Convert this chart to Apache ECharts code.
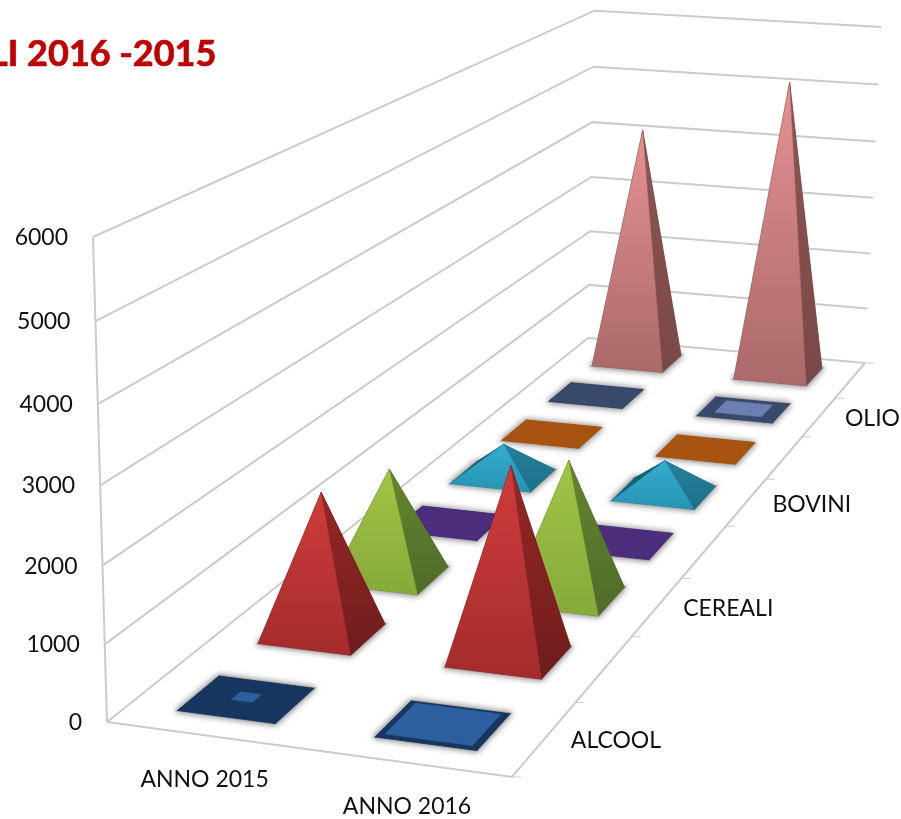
<!DOCTYPE html>
<html>
<head>
<meta charset="utf-8">
<style>
  html, body { margin: 0; padding: 0; background: #fff; }
  #chart { width: 901px; height: 819px; }
</style>
<script src="https://cdn.jsdelivr.net/npm/echarts@6/dist/echarts.min.js"></script>
</head>
<body>
<div id="chart"></div>
<script>
// values, rows run front to back
const years = ['ANNO 2015', 'ANNO 2016'];
const rows = ['ALCOOL', null, 'CEREALI', null, 'BOVINI', null, 'OLIO', null];
const anno2015 = [30, 1950, 1550, 10, 520, 10, 10, 4150];
const anno2016 = [15, 2580, 1940, 10, 520, 10, 20, 5150];
const valueTicks = [0, 1000, 2000, 3000, 4000, 5000, 6000];

// low bars are cut flat, this is the share of the base left on top (0 = pointed)
const capShare2015 = [0.22, 0, 0, 1, 0, 1, 1, 0];
const capShare2016 = [0.86, 0, 0, 1, 0, 1, 0.62, 0];

const rowColors = [
  { front: ['#17365f', '#17365f'], right: '#17365f', left: '#17365f', back: '#17365f', cap: '#2d5f9e' },
  { front: ['#d03c3c', '#a32c2c'], right: ['#972828', '#6e1c1c'], left: '#7a2020', back: '#7a2020', cap: '#a32c2c' },
  { front: ['#a0c545', '#86aa3b'], right: ['#648532', '#4f6b27'], left: '#55702a', back: '#55702a', cap: '#86aa3b' },
  { front: ['#4b2d7b', '#4b2d7b'], right: '#4b2d7b', left: '#4b2d7b', back: '#4b2d7b', cap: '#4b2d7b' },
  { front: ['#36adcd', '#2594b3'], right: ['#26809c', '#1d6f88'], left: '#175f75', back: '#1f7d98', cap: '#2594b3' },
  { front: ['#a6540f', '#a6540f'], right: '#a6540f', left: '#a6540f', back: '#a6540f', cap: '#a6540f' },
  { front: ['#39496b', '#39496b'], right: '#39496b', left: '#39496b', back: '#39496b', cap: '#6b80b0' },
  { front: ['#e59292', '#ab6969'], right: ['#8d5654', '#794846'], left: '#794846', back: '#794846', cap: '#ab6969' }
];

const font = 'Lato, "Open Sans", sans-serif';
const lineColor = '#cbcbcb';
const barShare = 0.5;

// box of the 3D chart on the page: floor corners and wall top corners
const floorA = [107, 722], floorB = [512, 777], floorC = [865, 363], floorD = [588, 338];
const topA = [93, 237], topC = [879, 27];

// floor homography (u along years, v along rows)
function buildFloor(p0, p1, p2, p3) {
  const dx1 = p1[0] - p2[0], dx2 = p3[0] - p2[0], sx = p0[0] - p1[0] + p2[0] - p3[0];
  const dy1 = p1[1] - p2[1], dy2 = p3[1] - p2[1], sy = p0[1] - p1[1] + p2[1] - p3[1];
  const det = dx1 * dy2 - dx2 * dy1;
  const g = (sx * dy2 - dx2 * sy) / det;
  const h = (dx1 * sy - sx * dy1) / det;
  return {
    a: p1[0] - p0[0] + g * p1[0], b: p3[0] - p0[0] + h * p3[0], c: p0[0],
    d: p1[1] - p0[1] + g * p1[1], e: p3[1] - p0[1] + h * p3[1], f: p0[1],
    g: g, h: h
  };
}
const F = buildFloor(floorA, floorB, floorC, floorD);

// height column, solved so that A and C reach their wall tops
const nCy = F.d + F.e + F.f, dC = F.g + F.h + 1;
const cz = (topC[1] * dC - nCy - topA[1] + floorA[1]) / (topA[1] - topC[1]);
const cx = topA[0] * (1 + cz) - floorA[0];
const cy = topA[1] * (1 + cz) - floorA[1];

function project(u, v, w) {
  const d = F.g * u + F.h * v + 1 + w * cz;
  return [
    (F.a * u + F.b * v + F.c + w * cx) / d,
    (F.d * u + F.e * v + F.f + w * cy) / d
  ];
}

function unitHeight(api, params, value) {
  const sys = params.coordSys;
  return (sys.y + sys.height - api.coord([0, value])[1]) / sys.height;
}

function face(points, fill) {
  const isGrad = Array.isArray(fill);
  return {
    type: 'polygon',
    shape: { points: points },
    style: {
      fill: isGrad
        ? new echarts.graphic.LinearGradient(0, 0, 0, 1, [
            { offset: 0, color: fill[0] },
            { offset: 1, color: fill[1] }
          ])
        : fill,
      stroke: isGrad ? fill[1] : fill,
      lineWidth: 0.5
    }
  };
}

function renderBar(params, api) {
  const sys = params.coordSys;
  const xi = api.value(0), value = api.value(1), row = api.value(2), capShare = api.value(3);
  const u = (api.coord([xi, 0])[0] - sys.x) / sys.width;
  const v = (row + 0.5) / rows.length;
  const du = api.size([1, 0])[0] / sys.width * barShare / 2;
  const dv = barShare / rows.length / 2;
  const w = unitHeight(api, params, value);
  const col = rowColors[row];

  const base = [[-1, -1], [1, -1], [1, 1], [-1, 1]].map(function (s) {
    return project(u + s[0] * du, v + s[1] * dv, 0);
  });
  const cap = [[-1, -1], [1, -1], [1, 1], [-1, 1]].map(function (s) {
    return project(u + s[0] * du * capShare, v + s[1] * dv * capShare, w);
  });
  const quad = function (i, j) { return [base[i], base[j], cap[j], cap[i]]; };

  const children = [{
    type: 'polygon',
    shape: { points: base },
    style: { fill: '#8f8f8f', stroke: '#b0b0b0', lineWidth: 2.5, shadowBlur: 6, shadowColor: 'rgba(90,90,90,0.7)' }
  }];
  children.push(face(base, col.back));
  children.push(face(quad(3, 2), col.back));
  children.push(face(quad(3, 0), col.left));
  children.push(face(quad(1, 2), col.right));
  children.push(face(quad(0, 1), col.front));
  if (capShare > 0) children.push(face(cap, capShare < 1 ? col.cap : col.back));
  return { type: 'group', children: children };
}

function line(points, width) {
  return {
    type: 'polyline',
    shape: { points: points },
    style: { stroke: lineColor, lineWidth: width || 2, fill: null }
  };
}

function label(text, x, y, align, color) {
  return {
    type: 'text',
    style: { text: text, x: x, y: y, fill: color || '#111', font: '23px ' + font, align: align, verticalAlign: 'middle' }
  };
}

function renderWallLine(params, api) {
  const tick = api.value(1);
  const w = unitHeight(api, params, tick);
  const a = project(0, 0, w), d = project(0, 1, w), c = project(1, 1, w);
  return {
    type: 'group',
    children: [
      line([a, d, c]),
      label(String(tick), a[0] - 25, a[1] + 0.5, 'right')
    ]
  };
}

function renderFrame(params, api) {
  const w = unitHeight(api, params, valueTicks[valueTicks.length - 1]);
  const children = [
    line([project(0, 0, 0), project(0, 0, w)]),
    line([project(0, 0, 0), project(1, 0, 0), project(1, 1, 0)])
  ];
  for (let i = 0; i <= rows.length; i++) {
    const p = project(1, i / rows.length, 0);
    children.push(line([p, [p[0] + 9, p[1]]], 1));
  }
  return { type: 'group', children: children };
}

function renderYearLabel(params, api) {
  const sys = params.coordSys;
  const xi = api.value(0);
  const u = (api.coord([xi, 0])[0] - sys.x) / sys.width;
  const p = project(u, 0, 0);
  return label(years[xi], p[0] - 0.5, p[1] + 44, 'center');
}

function renderRowLabel(params, api) {
  const row = api.value(2);
  const p = project(1, (row + 0.5) / rows.length, 0);
  return label(rows[row], p[0] + 26, p[1] + 2, 'left');
}

// back rows first so the front rows paint over them
const barData = [];
for (let r = rows.length - 1; r >= 0; r--) {
  barData.push([0, anno2015[r], r, capShare2015[r]]);
  barData.push([1, anno2016[r], r, capShare2016[r]]);
}
const rowLabelData = rows
  .map(function (name, r) { return name ? [0, 0, r] : null; })
  .filter(Boolean);

const chart = echarts.init(document.getElementById('chart'));
chart.setOption({
  animation: false,
  backgroundColor: '#fff',
  title: {
    text: 'LI 2016 -2015',
    left: -11,
    top: 36,
    padding: 0,
    textStyle: {
      color: '#c00000', fontSize: 36, fontWeight: 'bold', fontFamily: font,
      textBorderColor: '#c00000', textBorderWidth: 0.7
    }
  },
  grid: { left: 100, right: 100, top: 100, bottom: 100 },
  xAxis: { type: 'category', data: years, show: false },
  yAxis: { type: 'value', min: 0, max: 6000, interval: 1000, show: false },
  series: [
    { type: 'custom', renderItem: renderWallLine, clip: false, silent: true, z: 1,
      encode: { x: 0, y: 1 }, data: valueTicks.map(function (t) { return [0, t]; }) },
    { type: 'custom', renderItem: renderFrame, clip: false, silent: true, z: 1,
      encode: { x: 0, y: 1 }, data: [[0, 0]] },
    { type: 'custom', renderItem: renderYearLabel, clip: false, silent: true, z: 1,
      encode: { x: 0, y: 1 }, data: years.map(function (y, i) { return [i, 0]; }) },
    { type: 'custom', renderItem: renderRowLabel, clip: false, silent: true, z: 1,
      encode: { x: 0, y: 1 }, data: rowLabelData },
    { type: 'custom', renderItem: renderBar, clip: false, silent: true, z: 2,
      encode: { x: 0, y: 1 }, data: barData }
  ]
});
</script>
</body>
</html>
